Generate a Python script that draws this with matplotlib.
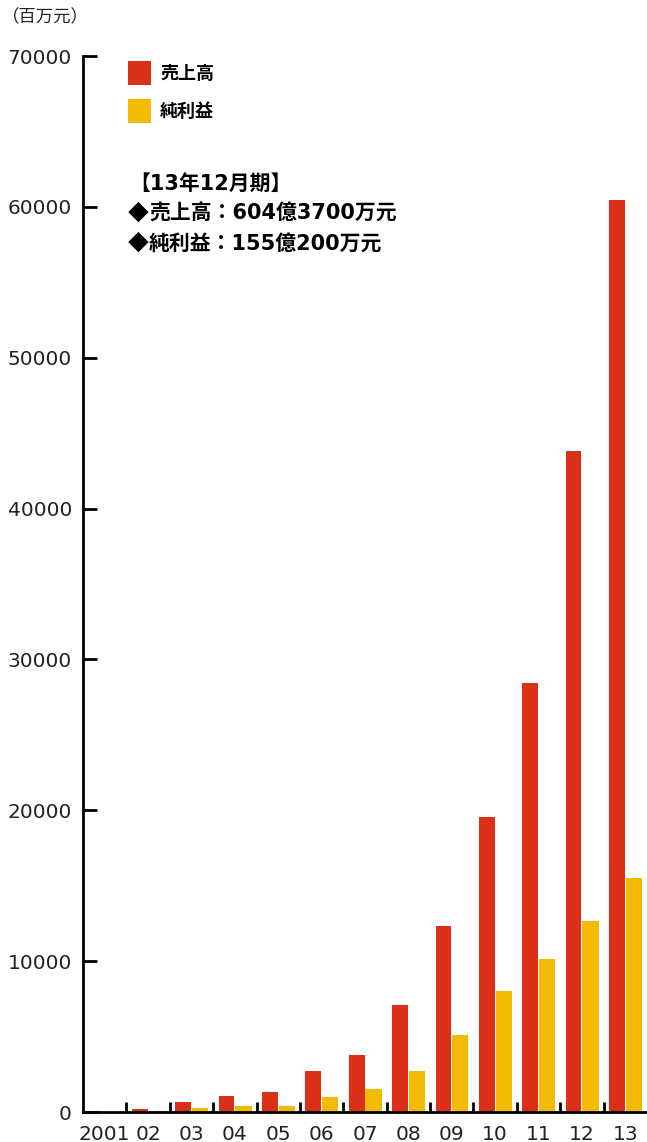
import matplotlib
matplotlib.use("Agg")
import matplotlib.pyplot as plt
import numpy as np
from matplotlib.patches import Rectangle

plt.rcParams['font.family'] = ['Noto Sans CJK JP', 'DejaVu Sans']
MIXED = ['DejaVu Sans', 'Noto Sans CJK JP']

years = ["2001", "02", "03", "04", "05", "06", "07", "08", "09", "10", "11", "12", "13"]
sales = [0, 200, 660, 1060, 1330, 2720, 3780, 7090, 12330, 19550, 28430, 43800, 60437]
profit = [0, 60, 270, 400, 400, 1000, 1520, 2720, 5100, 8020, 10140, 12660, 15502]
y_ticks = [0, 10000, 20000, 30000, 40000, 50000, 60000, 70000]

RED = "#DB2F18"
YELLOW = "#F2BA00"

fig = plt.figure(figsize=(6.47, 11.42), dpi=100)
ax = fig.add_axes([83 / 647, 1 - 1112 / 1142, 1 - 83 / 647, (1112 - 56) / 1142])

x = np.arange(len(years))
ax.bar(x - 0.375, sales, width=0.365, align="edge", color=RED, linewidth=0)
ax.bar(x + 0.01, profit, width=0.375, align="edge", color=YELLOW, linewidth=0)

ax.set_xlim(-0.5, len(years) - 0.5)
ax.set_ylim(0, 70000)

for side in ("top", "right"):
    ax.spines[side].set_visible(False)
for side in ("left", "bottom"):
    ax.spines[side].set_linewidth(2.0)
    ax.spines[side].set_color("black")

ax.set_yticks(y_ticks)
ax.set_yticklabels([str(v) for v in y_ticks], fontsize=14.5, color="#222222", family="DejaVu Sans")
ax.tick_params(axis="y", direction="in", length=10, width=2.0, pad=8)

ax.set_xticks(x)
ax.set_xticklabels(years, fontsize=14.5, color="#222222", family="DejaVu Sans")
ax.set_xticks(x[:-1] + 0.5, minor=True)
ax.tick_params(axis="x", which="major", length=0, pad=9)
ax.tick_params(axis="x", which="minor", direction="in", length=7, width=2.0)

# unit label
fig.text(2 / 647, 1 - 17 / 1142, "（百万元）", fontsize=12.5, va="center", ha="left", color="#222222")

# legend
for yc, col, lab in [(73, RED, "売上高"), (111, YELLOW, "純利益")]:
    fig.patches.append(Rectangle((128 / 647, 1 - (yc + 11.5) / 1142), 23 / 647, 23 / 1142,
                                 transform=fig.transFigure, color=col, linewidth=0))
    fig.text(160 / 647, 1 - yc / 1142, lab, fontsize=13, fontweight="bold", va="center", ha="left")

# period summary
fig.text(129 / 647, 1 - 184 / 1142, "【13年12月期】", fontsize=15, fontweight="bold",
         va="center", ha="left", color="black", family=MIXED)
for i, t in enumerate(["売上高：604億3700万元", "純利益：155億200万元"]):
    yy = 1 - (214 + 30 * i) / 1142
    fig.text(128 / 647, yy, "◆", fontsize=15, va="center", ha="left", color="black",
             family="Noto Sans CJK JP")
    fig.text(149 / 647, yy, t, fontsize=15, fontweight="bold",
             va="center", ha="left", color="black", family=MIXED)

fig.savefig("out.png", dpi=100)
